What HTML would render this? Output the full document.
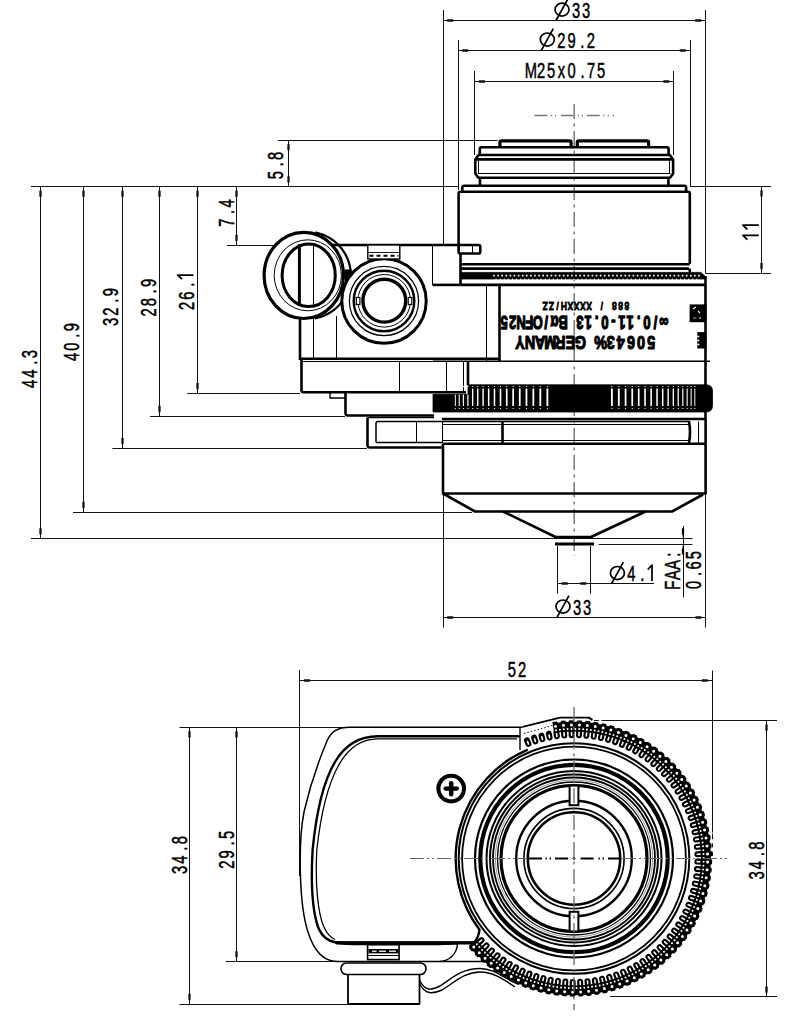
<!DOCTYPE html>
<html><head><meta charset="utf-8"><style>
html,body{margin:0;padding:0;background:#fff;}
svg{display:block;}
</style></head><body>
<svg width="800" height="1026" viewBox="0 0 800 1026">
<rect width="800" height="1026" fill="#fff"/>
<line x1="443.5" y1="10" x2="443.5" y2="245" stroke="#111" stroke-width="1.0" />
<line x1="705.5" y1="10" x2="705.5" y2="273.3" stroke="#111" stroke-width="1.0" />
<line x1="443" y1="20.5" x2="705.4" y2="20.5" stroke="#111" stroke-width="1.0" />
<path d="M443.00,20.50 L446.80,21.05 L447.60,21.65 L453.20,21.65 L453.20,19.35 L447.60,19.35 L446.80,19.95 Z" fill="#111"/>
<path d="M705.40,20.50 L701.60,19.95 L700.80,19.35 L695.20,19.35 L695.20,21.65 L700.80,21.65 L701.60,21.05 Z" fill="#111"/>
<g transform="translate(572.2,17.6) rotate(0)"><ellipse cx="-10.20" cy="-7.98" rx="7.0" ry="6.51" stroke="#000" stroke-width="1.7" fill="none"/><line x1="-16.15" y1="2.87" x2="-4.25" y2="-18.84" stroke="#000" stroke-width="1.7"/><text transform="scale(0.66,1)" x="5.76 21.21" y="0" text-anchor="middle" font-family='"Liberation Sans", sans-serif' font-size="22.3" font-weight="normal" fill="#000" stroke="#000" stroke-width="0.53" stroke-linejoin="round">33</text></g>
<line x1="458.5" y1="40" x2="458.5" y2="190" stroke="#111" stroke-width="1.0" />
<line x1="690.5" y1="40" x2="690.5" y2="186" stroke="#111" stroke-width="1.0" />
<line x1="458" y1="50.5" x2="690" y2="50.5" stroke="#111" stroke-width="1.0" />
<path d="M458.00,50.50 L461.80,51.05 L462.60,51.65 L468.20,51.65 L468.20,49.35 L462.60,49.35 L461.80,49.95 Z" fill="#111"/>
<path d="M690.00,50.50 L686.20,49.95 L685.40,49.35 L679.80,49.35 L679.80,51.65 L685.40,51.65 L686.20,51.05 Z" fill="#111"/>
<g transform="translate(567.2,47.5) rotate(0)"><ellipse cx="-19.89" cy="-7.98" rx="7.0" ry="6.51" stroke="#000" stroke-width="1.7" fill="none"/><line x1="-25.84" y1="2.87" x2="-13.94" y2="-18.84" stroke="#000" stroke-width="1.7"/><text transform="scale(0.66,1)" x="-8.92 6.53 22.91 35.89" y="0" text-anchor="middle" font-family='"Liberation Sans", sans-serif' font-size="22.3" font-weight="normal" fill="#000" stroke="#000" stroke-width="0.53" stroke-linejoin="round">29.2</text></g>
<line x1="474.5" y1="71" x2="474.5" y2="155" stroke="#111" stroke-width="1.0" />
<line x1="673.5" y1="71" x2="673.5" y2="155" stroke="#111" stroke-width="1.0" />
<line x1="474.8" y1="81.5" x2="673.5" y2="81.5" stroke="#111" stroke-width="1.0" />
<path d="M474.80,81.50 L478.60,82.05 L479.40,82.65 L485.00,82.65 L485.00,80.35 L479.40,80.35 L478.60,80.95 Z" fill="#111"/>
<path d="M673.50,81.50 L669.70,80.95 L668.90,80.35 L663.30,80.35 L663.30,82.65 L668.90,82.65 L669.70,82.05 Z" fill="#111"/>
<g transform="translate(566,78) rotate(0)"><text transform="scale(0.66,1)" x="-53.32 -37.86 -22.41 -6.95 8.50 24.88 37.86 53.32" y="0" text-anchor="middle" font-family='"Liberation Sans", sans-serif' font-size="22.3" font-weight="normal" fill="#000" stroke="#000" stroke-width="0.53" stroke-linejoin="round">M25x0.75</text></g>
<line x1="278" y1="140.5" x2="497.5" y2="140.5" stroke="#111" stroke-width="1.0" />
<line x1="288.5" y1="140" x2="288.5" y2="186.5" stroke="#111" stroke-width="1.0" />
<path d="M288.50,140.00 L287.95,143.80 L287.35,144.60 L287.35,150.20 L289.65,150.20 L289.65,144.60 L289.05,143.80 Z" fill="#111"/>
<path d="M288.50,186.50 L289.05,182.70 L289.65,181.90 L289.65,176.30 L287.35,176.30 L287.35,181.90 L287.95,182.70 Z" fill="#111"/>
<g transform="translate(282.5,165.5) rotate(-90)"><text transform="scale(0.66,1)" x="-14.68 1.70 14.68" y="0" text-anchor="middle" font-family='"Liberation Sans", sans-serif' font-size="22.3" font-weight="normal" fill="#000" stroke="#000" stroke-width="0.53" stroke-linejoin="round">5.8</text></g>
<line x1="31" y1="186.5" x2="458" y2="186.5" stroke="#111" stroke-width="1.0" />
<line x1="236.5" y1="186.5" x2="236.5" y2="245" stroke="#111" stroke-width="1.0" />
<path d="M236.50,186.50 L235.95,190.30 L235.35,191.10 L235.35,196.70 L237.65,196.70 L237.65,191.10 L237.05,190.30 Z" fill="#111"/>
<path d="M236.50,245.00 L237.05,241.20 L237.65,240.40 L237.65,234.80 L235.35,234.80 L235.35,240.40 L235.95,241.20 Z" fill="#111"/>
<line x1="227" y1="245.5" x2="300" y2="245.5" stroke="#111" stroke-width="1.0" />
<g transform="translate(233.8,213) rotate(-90)"><text transform="scale(0.66,1)" x="-14.68 1.70 14.68" y="0" text-anchor="middle" font-family='"Liberation Sans", sans-serif' font-size="22.3" font-weight="normal" fill="#000" stroke="#000" stroke-width="0.53" stroke-linejoin="round">7.4</text></g>
<line x1="690" y1="186.5" x2="771" y2="186.5" stroke="#111" stroke-width="1.0" />
<line x1="705.4" y1="273.5" x2="771" y2="273.5" stroke="#111" stroke-width="1.0" />
<line x1="761.5" y1="186.2" x2="761.5" y2="273.3" stroke="#111" stroke-width="1.0" />
<path d="M761.50,186.20 L760.95,190.00 L760.35,190.80 L760.35,196.40 L762.65,196.40 L762.65,190.80 L762.05,190.00 Z" fill="#111"/>
<path d="M761.50,273.30 L762.05,269.50 L762.65,268.70 L762.65,263.10 L760.35,263.10 L760.35,268.70 L760.95,269.50 Z" fill="#111"/>
<g transform="translate(758.8,231.5) rotate(-90)"><path d="M-3.90,0 V-15.97 L-8.10,-11.37" stroke="#000" stroke-width="1.75" fill="none" stroke-linejoin="round"/><path d="M6.30,0 V-15.97 L2.10,-11.37" stroke="#000" stroke-width="1.75" fill="none" stroke-linejoin="round"/></g>
<line x1="40.5" y1="186.5" x2="40.5" y2="538.5" stroke="#111" stroke-width="1.0" />
<path d="M40.50,186.50 L39.95,190.30 L39.35,191.10 L39.35,196.70 L41.65,196.70 L41.65,191.10 L41.05,190.30 Z" fill="#111"/>
<path d="M40.50,538.50 L41.05,534.70 L41.65,533.90 L41.65,528.30 L39.35,528.30 L39.35,533.90 L39.95,534.70 Z" fill="#111"/>
<line x1="31" y1="538.5" x2="300" y2="538.5" stroke="#111" stroke-width="1.0" />
<g transform="translate(36.800000000000004,369) rotate(-90)"><text transform="scale(0.66,1)" x="-22.41 -6.95 9.43 22.41" y="0" text-anchor="middle" font-family='"Liberation Sans", sans-serif' font-size="22.3" font-weight="normal" fill="#000" stroke="#000" stroke-width="0.53" stroke-linejoin="round">44.3</text></g>
<line x1="83.5" y1="186.5" x2="83.5" y2="512" stroke="#111" stroke-width="1.0" />
<path d="M83.50,186.50 L82.95,190.30 L82.35,191.10 L82.35,196.70 L84.65,196.70 L84.65,191.10 L84.05,190.30 Z" fill="#111"/>
<path d="M83.50,512.00 L84.05,508.20 L84.65,507.40 L84.65,501.80 L82.35,501.80 L82.35,507.40 L82.95,508.20 Z" fill="#111"/>
<line x1="73" y1="512.5" x2="300" y2="512.5" stroke="#111" stroke-width="1.0" />
<g transform="translate(79.2,342) rotate(-90)"><text transform="scale(0.66,1)" x="-22.41 -6.95 9.43 22.41" y="0" text-anchor="middle" font-family='"Liberation Sans", sans-serif' font-size="22.3" font-weight="normal" fill="#000" stroke="#000" stroke-width="0.53" stroke-linejoin="round">40.9</text></g>
<line x1="122.5" y1="186.5" x2="122.5" y2="448.2" stroke="#111" stroke-width="1.0" />
<path d="M122.50,186.50 L121.95,190.30 L121.35,191.10 L121.35,196.70 L123.65,196.70 L123.65,191.10 L123.05,190.30 Z" fill="#111"/>
<path d="M122.50,448.20 L123.05,444.40 L123.65,443.60 L123.65,438.00 L121.35,438.00 L121.35,443.60 L121.95,444.40 Z" fill="#111"/>
<line x1="112.4" y1="448.5" x2="300" y2="448.5" stroke="#111" stroke-width="1.0" />
<g transform="translate(118.2,307) rotate(-90)"><text transform="scale(0.66,1)" x="-22.41 -6.95 9.43 22.41" y="0" text-anchor="middle" font-family='"Liberation Sans", sans-serif' font-size="22.3" font-weight="normal" fill="#000" stroke="#000" stroke-width="0.53" stroke-linejoin="round">32.9</text></g>
<line x1="159.5" y1="186.5" x2="159.5" y2="416" stroke="#111" stroke-width="1.0" />
<path d="M159.50,186.50 L158.95,190.30 L158.35,191.10 L158.35,196.70 L160.65,196.70 L160.65,191.10 L160.05,190.30 Z" fill="#111"/>
<path d="M159.50,416.00 L160.05,412.20 L160.65,411.40 L160.65,405.80 L158.35,405.80 L158.35,411.40 L158.95,412.20 Z" fill="#111"/>
<line x1="150.2" y1="416.5" x2="300" y2="416.5" stroke="#111" stroke-width="1.0" />
<g transform="translate(155.79999999999998,297.6) rotate(-90)"><text transform="scale(0.66,1)" x="-22.41 -6.95 9.43 22.41" y="0" text-anchor="middle" font-family='"Liberation Sans", sans-serif' font-size="22.3" font-weight="normal" fill="#000" stroke="#000" stroke-width="0.53" stroke-linejoin="round">28.9</text></g>
<line x1="197.5" y1="186.5" x2="197.5" y2="393.2" stroke="#111" stroke-width="1.0" />
<path d="M197.50,186.50 L196.95,190.30 L196.35,191.10 L196.35,196.70 L198.65,196.70 L198.65,191.10 L198.05,190.30 Z" fill="#111"/>
<path d="M197.50,393.20 L198.05,389.40 L198.65,388.60 L198.65,383.00 L196.35,383.00 L196.35,388.60 L196.95,389.40 Z" fill="#111"/>
<line x1="187.4" y1="393.5" x2="300" y2="393.5" stroke="#111" stroke-width="1.0" />
<g transform="translate(193.5,291) rotate(-90)"><path d="M15.99,0 V-15.97 L11.79,-11.37" stroke="#000" stroke-width="1.75" fill="none" stroke-linejoin="round"/><text transform="scale(0.66,1)" x="-22.41 -6.95 9.43" y="0" text-anchor="middle" font-family='"Liberation Sans", sans-serif' font-size="22.3" font-weight="normal" fill="#000" stroke="#000" stroke-width="0.53" stroke-linejoin="round">26.</text></g>
<line x1="300" y1="512.5" x2="472" y2="512.5" stroke="#111" stroke-width="1.0" />
<line x1="300" y1="538.5" x2="555" y2="538.5" stroke="#111" stroke-width="1.0" />
<line x1="300" y1="448.5" x2="367" y2="448.5" stroke="#111" stroke-width="1.0" />
<line x1="300" y1="416.5" x2="345" y2="416.5" stroke="#111" stroke-width="1.0" />
<line x1="574.2" y1="104" x2="574.2" y2="556" stroke="#666" stroke-width="1.3" stroke-dasharray="15,4.5,3,4.5"/>
<line x1="534.5" y1="115.5" x2="547.4" y2="115.5" stroke="#777" stroke-width="1.5" />
<line x1="551" y1="115.5" x2="552.2" y2="115.5" stroke="#777" stroke-width="1.5" />
<line x1="555" y1="115.5" x2="556.2" y2="115.5" stroke="#777" stroke-width="1.5" />
<line x1="561" y1="115.5" x2="573.3" y2="115.5" stroke="#777" stroke-width="1.5" />
<line x1="577.8" y1="115.5" x2="579" y2="115.5" stroke="#777" stroke-width="1.5" />
<line x1="581.8" y1="115.5" x2="583" y2="115.5" stroke="#777" stroke-width="1.5" />
<line x1="586.8" y1="115.5" x2="599.7" y2="115.5" stroke="#777" stroke-width="1.5" />
<line x1="603.2" y1="115.5" x2="604.4" y2="115.5" stroke="#777" stroke-width="1.5" />
<line x1="607.7" y1="115.5" x2="608.9" y2="115.5" stroke="#777" stroke-width="1.5" />
<line x1="612.7" y1="115.5" x2="613.9" y2="115.5" stroke="#777" stroke-width="1.5" />
<line x1="443.5" y1="494" x2="443.5" y2="627.5" stroke="#111" stroke-width="1.0" />
<line x1="705.5" y1="494" x2="705.5" y2="627.5" stroke="#111" stroke-width="1.0" />
<line x1="443" y1="617.5" x2="705.6" y2="617.5" stroke="#111" stroke-width="1.0" />
<path d="M443.00,617.50 L446.80,618.05 L447.60,618.65 L453.20,618.65 L453.20,616.35 L447.60,616.35 L446.80,616.95 Z" fill="#111"/>
<path d="M705.60,617.50 L701.80,616.95 L701.00,616.35 L695.40,616.35 L695.40,618.65 L701.00,618.65 L701.80,618.05 Z" fill="#111"/>
<g transform="translate(573.2,614.5) rotate(0)"><ellipse cx="-10.20" cy="-7.98" rx="7.0" ry="6.51" stroke="#000" stroke-width="1.7" fill="none"/><line x1="-16.15" y1="2.87" x2="-4.25" y2="-18.84" stroke="#000" stroke-width="1.7"/><text transform="scale(0.66,1)" x="5.76 21.21" y="0" text-anchor="middle" font-family='"Liberation Sans", sans-serif' font-size="22.3" font-weight="normal" fill="#000" stroke="#000" stroke-width="0.53" stroke-linejoin="round">33</text></g>
<line x1="557.5" y1="546" x2="557.5" y2="593.7" stroke="#111" stroke-width="1.0" />
<line x1="590.5" y1="546" x2="590.5" y2="593.7" stroke="#111" stroke-width="1.0" />
<line x1="557.5" y1="583.5" x2="590.5" y2="583.5" stroke="#111" stroke-width="1.0" />
<path d="M557.50,583.50 L561.30,584.05 L562.10,584.65 L567.70,584.65 L567.70,582.35 L562.10,582.35 L561.30,582.95 Z" fill="#111"/>
<path d="M590.50,583.50 L586.70,582.95 L585.90,582.35 L580.30,582.35 L580.30,584.65 L585.90,584.65 L586.70,584.05 Z" fill="#111"/>
<line x1="590.5" y1="583.5" x2="654" y2="583.5" stroke="#111" stroke-width="1.0" />
<g transform="translate(632.2,581) rotate(0)"><ellipse cx="-14.79" cy="-7.98" rx="7.0" ry="6.51" stroke="#000" stroke-width="1.7" fill="none"/><line x1="-20.74" y1="2.87" x2="-8.84" y2="-18.84" stroke="#000" stroke-width="1.7"/><path d="M19.79,0 V-15.97 L15.59,-11.37" stroke="#000" stroke-width="1.75" fill="none" stroke-linejoin="round"/><text transform="scale(0.66,1)" x="-1.20 15.18" y="0" text-anchor="middle" font-family='"Liberation Sans", sans-serif' font-size="22.3" font-weight="normal" fill="#000" stroke="#000" stroke-width="0.53" stroke-linejoin="round">4.</text></g>
<line x1="598.7" y1="544.5" x2="692.5" y2="544.5" stroke="#111" stroke-width="1.0" />
<line x1="555" y1="538.5" x2="692.5" y2="538.5" stroke="#111" stroke-width="1.0" />
<line x1="683.5" y1="526" x2="683.5" y2="597.5" stroke="#111" stroke-width="1.0" />
<path d="M683.00,538.50 L683.55,534.70 L684.15,533.90 L684.15,528.30 L681.85,528.30 L681.85,533.90 L682.45,534.70 Z" fill="#000"/>
<path d="M683.00,544.20 L682.45,548.00 L681.85,548.80 L681.85,554.40 L684.15,554.40 L684.15,548.80 L683.55,548.00 Z" fill="#000"/>
<g transform="translate(679.5,570) rotate(-90)"><text transform="scale(0.66,1)" x="-23.18 -7.73 7.73 23.18" y="0" text-anchor="middle" font-family='"Liberation Sans", sans-serif' font-size="22.3" font-weight="normal" fill="#000" stroke="#000" stroke-width="0.53" stroke-linejoin="round">FAA:</text></g>
<g transform="translate(700.5,570) rotate(-90)"><text transform="scale(0.66,1)" x="-22.41 -6.03 6.95 22.41" y="0" text-anchor="middle" font-family='"Liberation Sans", sans-serif' font-size="22.3" font-weight="normal" fill="#000" stroke="#000" stroke-width="0.53" stroke-linejoin="round">0.65</text></g>
<path d="M499.9,146 V142.5 Q499.9,140.9 501.5,140.9 H569.5 Q571.1,140.9 571.1,142.5 V146" stroke="#000" stroke-width="3.2" fill="none" stroke-linejoin="round" />
<path d="M577.3,146 V142.5 Q577.3,140.9 579,140.9 H647 Q648.6,140.9 648.6,142.5 V146" stroke="#000" stroke-width="3.2" fill="none" stroke-linejoin="round" />
<path d="M479.8,154 V149 Q479.8,147.3 481.5,147.3 H666.9 Q668.6,147.3 668.6,149 V154" stroke="#000" stroke-width="2.6" fill="none" stroke-linejoin="round" />
<line x1="478" y1="155" x2="670.4" y2="155" stroke="#000" stroke-width="2.6" />
<path d="M478.5,155 L475.3,159.5 V173.5 L478.5,178" stroke="#000" stroke-width="2.6" fill="none" stroke-linejoin="round" />
<path d="M669.9,155 L673.1,159.5 V173.5 L669.9,178" stroke="#000" stroke-width="2.6" fill="none" stroke-linejoin="round" />
<line x1="475.5" y1="159.4" x2="672.9" y2="159.4" stroke="#000" stroke-width="2.6" />
<line x1="478.5" y1="160" x2="478.5" y2="173" stroke="#000" stroke-width="1.0" />
<line x1="669.5" y1="160" x2="669.5" y2="173" stroke="#000" stroke-width="1.0" />
<line x1="478" y1="173.5" x2="670.4" y2="173.5" stroke="#000" stroke-width="1.0" />
<line x1="478" y1="177.8" x2="670.4" y2="177.8" stroke="#000" stroke-width="2.6" />
<line x1="480" y1="178" x2="480" y2="185.5" stroke="#000" stroke-width="2.6" />
<line x1="668.4" y1="178" x2="668.4" y2="185.5" stroke="#000" stroke-width="2.6" />
<path d="M462.3,191.5 V187.5 Q462.3,185.8 464,185.8 H684.4 Q686.1,185.8 686.1,187.5 V191.5" stroke="#000" stroke-width="2.6" fill="none" stroke-linejoin="round" />
<path d="M458.6,245 V193.5 Q458.6,191.8 460.3,191.8 H688.1 Q689.8,191.8 689.8,193.5 V264" stroke="#000" stroke-width="2.6" fill="none" stroke-linejoin="round" />
<line x1="460.5" y1="253" x2="460.5" y2="284.5" stroke="#000" stroke-width="2.6" />
<path d="M458.6,245 H478.5 Q480.3,245 480.3,246.8 V251.7 Q480.3,253.5 478.5,253.5 H460.5 Q458.6,253.5 458.6,251.7 Z" stroke="#000" stroke-width="2.6" fill="none" stroke-linejoin="round" />
<line x1="472.5" y1="245.5" x2="472.5" y2="253" stroke="#000" stroke-width="1.0" />
<line x1="460.5" y1="264.3" x2="689.8" y2="264.3" stroke="#000" stroke-width="2.6" />
<line x1="460.5" y1="268.6" x2="689" y2="268.6" stroke="#000" stroke-width="2.6" />
<line x1="689.8" y1="268.6" x2="689.8" y2="272.5" stroke="#000" stroke-width="2.6" />
<path d="M460.5,272.4 H700.8 L705.4,276.5 V279 H460.5 Z" stroke="#000" stroke-width="0.8" fill="#000" stroke-linejoin="round" />
<path d="M494.00,275.6h0.01M498.10,275.6h0.01M502.20,275.6h0.01M506.30,275.6h0.01M510.40,275.6h0.01M514.50,275.6h0.01M518.60,275.6h0.01M522.70,275.6h0.01M526.80,275.6h0.01M530.90,275.6h0.01M535.00,275.6h0.01M539.10,275.6h0.01M543.20,275.6h0.01M547.30,275.6h0.01M551.40,275.6h0.01M555.50,275.6h0.01M559.60,275.6h0.01M563.70,275.6h0.01M567.80,275.6h0.01M571.90,275.6h0.01M576.00,275.6h0.01M580.10,275.6h0.01M584.20,275.6h0.01M588.30,275.6h0.01M592.40,275.6h0.01M596.50,275.6h0.01M600.60,275.6h0.01M604.70,275.6h0.01M608.80,275.6h0.01M612.90,275.6h0.01M617.00,275.6h0.01M621.10,275.6h0.01M625.20,275.6h0.01M629.30,275.6h0.01M633.40,275.6h0.01M637.50,275.6h0.01M641.60,275.6h0.01M645.70,275.6h0.01M649.80,275.6h0.01M653.90,275.6h0.01M658.00,275.6h0.01M662.10,275.6h0.01M666.20,275.6h0.01M670.30,275.6h0.01M674.40,275.6h0.01M678.50,275.6h0.01M682.60,275.6h0.01M686.70,275.6h0.01M690.80,275.6h0.01M694.90,275.6h0.01M699.00,275.6h0.01" stroke="#fff" stroke-width="1.6" stroke-linecap="square"/>
<path d="M496.00,279.2h0.01M500.10,279.2h0.01M504.20,279.2h0.01M508.30,279.2h0.01M512.40,279.2h0.01M516.50,279.2h0.01M520.60,279.2h0.01M524.70,279.2h0.01M528.80,279.2h0.01M532.90,279.2h0.01M537.00,279.2h0.01M541.10,279.2h0.01M545.20,279.2h0.01M549.30,279.2h0.01M553.40,279.2h0.01M557.50,279.2h0.01M561.60,279.2h0.01M565.70,279.2h0.01M569.80,279.2h0.01M573.90,279.2h0.01M578.00,279.2h0.01M582.10,279.2h0.01M586.20,279.2h0.01M590.30,279.2h0.01M594.40,279.2h0.01M598.50,279.2h0.01M602.60,279.2h0.01M606.70,279.2h0.01M610.80,279.2h0.01M614.90,279.2h0.01M619.00,279.2h0.01M623.10,279.2h0.01M627.20,279.2h0.01M631.30,279.2h0.01M635.40,279.2h0.01M639.50,279.2h0.01M643.60,279.2h0.01M647.70,279.2h0.01M651.80,279.2h0.01M655.90,279.2h0.01M660.00,279.2h0.01M664.10,279.2h0.01M668.20,279.2h0.01M672.30,279.2h0.01M676.40,279.2h0.01M680.50,279.2h0.01M684.60,279.2h0.01M688.70,279.2h0.01M692.80,279.2h0.01M696.90,279.2h0.01" stroke="#fff" stroke-width="1.4" stroke-linecap="round"/>
<path d="M689.6,304.4 H706.4 V322.2 H689.6 Z" fill="#000"/>
<path d="M693,309 l3,-2 M693.5,318 h2 M699,318 h2 M698,311 l2,2" stroke="#fff" stroke-width="1.1"/>
<path d="M697.3,332.1 H706.4 V348.5 H697.3 Z" fill="#000"/>
<path d="M697.3,336.5 h2 M697.3,340.5 h2 M697.3,344.5 h2" stroke="#fff" stroke-width="1.3"/>
<line x1="460.5" y1="284.9" x2="705.6" y2="284.9" stroke="#000" stroke-width="2.6" />
<line x1="705.5" y1="276" x2="705.5" y2="385" stroke="#000" stroke-width="2.6" />
<line x1="300" y1="245" x2="458.6" y2="245" stroke="#000" stroke-width="2.6" />
<line x1="432.5" y1="245" x2="432.5" y2="284.9" stroke="#000" stroke-width="1.0" />
<line x1="432.6" y1="284.9" x2="460.5" y2="284.9" stroke="#000" stroke-width="2.6" />
<line x1="499.5" y1="284.9" x2="499.5" y2="361" stroke="#000" stroke-width="2.6" />
<line x1="486.5" y1="284.9" x2="486.5" y2="361" stroke="#000" stroke-width="1.0" />
<line x1="300" y1="358.8" x2="499.5" y2="358.8" stroke="#000" stroke-width="2.6" />
<line x1="300" y1="245" x2="300" y2="360" stroke="#000" stroke-width="2.6" />
<line x1="313.5" y1="245" x2="313.5" y2="358" stroke="#000" stroke-width="1.0" />
<line x1="336.5" y1="316" x2="336.5" y2="358" stroke="#000" stroke-width="1.0" />
<line x1="301" y1="361.5" x2="432.6" y2="361.5" stroke="#000" stroke-width="1.0" />
<line x1="432.6" y1="361.3" x2="710" y2="361.3" stroke="#000" stroke-width="1.6" />
<path d="M301.5,360 V390.3 Q301.5,392.3 303.5,392.3 H466" stroke="#000" stroke-width="2.6" fill="none" stroke-linejoin="round" />
<line x1="399.5" y1="361" x2="399.5" y2="392" stroke="#000" stroke-width="1.0" />
<line x1="446.5" y1="361" x2="446.5" y2="391.5" stroke="#000" stroke-width="1.0" />
<line x1="463.5" y1="361" x2="463.5" y2="391.5" stroke="#000" stroke-width="1.0" />
<line x1="468" y1="361" x2="468" y2="385" stroke="#000" stroke-width="2.6" />
<path d="M330,392.5 V398 H346" stroke="#000" stroke-width="1.4" fill="none" stroke-linejoin="round" />
<path d="M345.5,392 V413 Q345.5,415.5 348,415.5 H434" stroke="#000" stroke-width="2.6" fill="none" stroke-linejoin="round" />
<path d="M468,384.8 H706 Q712.5,384.8 712.5,391 V405.5 Q712.5,412 706,412 H433 V394.2 H468 Z" stroke="#000" stroke-width="0.8" fill="#000" stroke-linejoin="round" />
<rect x="454.83" y="386" width="1" height="1" fill="#fff"/><rect x="454.83" y="408" width="1" height="1" fill="#fff"/>
<rect x="458.71" y="386" width="1" height="1" fill="#fff"/><rect x="458.71" y="408" width="1" height="1" fill="#fff"/>
<rect x="462.90" y="386" width="1" height="1" fill="#fff"/><rect x="462.90" y="408" width="1" height="1" fill="#fff"/>
<rect x="467.40" y="386" width="1" height="1" fill="#fff"/><rect x="467.40" y="408" width="1" height="1" fill="#fff"/>
<rect x="472.19" y="386" width="1" height="1" fill="#fff"/><rect x="472.19" y="408" width="1" height="1" fill="#fff"/>
<rect x="477.26" y="386" width="1" height="1" fill="#fff"/><rect x="477.26" y="408" width="1" height="1" fill="#fff"/>
<rect x="482.59" y="386" width="1" height="1" fill="#fff"/><rect x="482.59" y="408" width="1" height="1" fill="#fff"/>
<rect x="488.16" y="386" width="1" height="1" fill="#fff"/><rect x="488.16" y="408" width="1" height="1" fill="#fff"/>
<rect x="493.98" y="386" width="1" height="1" fill="#fff"/><rect x="493.98" y="408" width="1" height="1" fill="#fff"/>
<rect x="500.01" y="386" width="1" height="1" fill="#fff"/><rect x="500.01" y="408" width="1" height="1" fill="#fff"/>
<rect x="506.24" y="386" width="1" height="1" fill="#fff"/><rect x="506.24" y="408" width="1" height="1" fill="#fff"/>
<rect x="512.66" y="386" width="1" height="1" fill="#fff"/><rect x="512.66" y="408" width="1" height="1" fill="#fff"/>
<rect x="519.24" y="386" width="1" height="1" fill="#fff"/><rect x="519.24" y="408" width="1" height="1" fill="#fff"/>
<rect x="525.97" y="386" width="1" height="1" fill="#fff"/><rect x="525.97" y="408" width="1" height="1" fill="#fff"/>
<rect x="532.83" y="386" width="1" height="1" fill="#fff"/><rect x="532.83" y="408" width="1" height="1" fill="#fff"/>
<rect x="539.81" y="386" width="1" height="1" fill="#fff"/><rect x="539.81" y="408" width="1" height="1" fill="#fff"/>
<rect x="546.87" y="386" width="1" height="1" fill="#fff"/><rect x="546.87" y="408" width="1" height="1" fill="#fff"/>
<rect x="611.39" y="386" width="1" height="1" fill="#fff"/><rect x="611.39" y="408" width="1" height="1" fill="#fff"/>
<rect x="618.30" y="386" width="1" height="1" fill="#fff"/><rect x="618.30" y="408" width="1" height="1" fill="#fff"/>
<rect x="625.08" y="386" width="1" height="1" fill="#fff"/><rect x="625.08" y="408" width="1" height="1" fill="#fff"/>
<rect x="631.73" y="386" width="1" height="1" fill="#fff"/><rect x="631.73" y="408" width="1" height="1" fill="#fff"/>
<rect x="638.21" y="386" width="1" height="1" fill="#fff"/><rect x="638.21" y="408" width="1" height="1" fill="#fff"/>
<rect x="644.52" y="386" width="1" height="1" fill="#fff"/><rect x="644.52" y="408" width="1" height="1" fill="#fff"/>
<rect x="650.64" y="386" width="1" height="1" fill="#fff"/><rect x="650.64" y="408" width="1" height="1" fill="#fff"/>
<rect x="656.54" y="386" width="1" height="1" fill="#fff"/><rect x="656.54" y="408" width="1" height="1" fill="#fff"/>
<rect x="662.21" y="386" width="1" height="1" fill="#fff"/><rect x="662.21" y="408" width="1" height="1" fill="#fff"/>
<rect x="667.64" y="386" width="1" height="1" fill="#fff"/><rect x="667.64" y="408" width="1" height="1" fill="#fff"/>
<rect x="672.82" y="386" width="1" height="1" fill="#fff"/><rect x="672.82" y="408" width="1" height="1" fill="#fff"/>
<rect x="677.72" y="386" width="1" height="1" fill="#fff"/><rect x="677.72" y="408" width="1" height="1" fill="#fff"/>
<rect x="682.33" y="386" width="1" height="1" fill="#fff"/><rect x="682.33" y="408" width="1" height="1" fill="#fff"/>
<rect x="686.65" y="386" width="1" height="1" fill="#fff"/><rect x="686.65" y="408" width="1" height="1" fill="#fff"/>
<rect x="690.66" y="386" width="1" height="1" fill="#fff"/><rect x="690.66" y="408" width="1" height="1" fill="#fff"/>
<rect x="694.34" y="386" width="1" height="1" fill="#fff"/><rect x="694.34" y="408" width="1" height="1" fill="#fff"/>
<rect x="454.84" y="394.5" width="0.98" height="11.5" fill="#fff"/>
<rect x="458.68" y="394.5" width="1.06" height="11.5" fill="#fff"/>
<rect x="462.83" y="394.5" width="1.14" height="11.5" fill="#fff"/>
<rect x="467.29" y="394.5" width="1.22" height="11.5" fill="#fff"/>
<rect x="472.04" y="388.5" width="1.29" height="17.5" fill="#fff"/>
<rect x="477.07" y="388.5" width="1.36" height="17.5" fill="#fff"/>
<rect x="482.37" y="388.5" width="1.43" height="17.5" fill="#fff"/>
<rect x="487.92" y="388.5" width="1.50" height="17.5" fill="#fff"/>
<rect x="493.70" y="388.5" width="1.55" height="17.5" fill="#fff"/>
<rect x="499.70" y="388.5" width="1.61" height="17.5" fill="#fff"/>
<rect x="505.91" y="388.5" width="1.66" height="17.5" fill="#fff"/>
<rect x="512.30" y="388.5" width="1.71" height="17.5" fill="#fff"/>
<rect x="518.87" y="388.5" width="1.75" height="17.5" fill="#fff"/>
<rect x="525.58" y="388.5" width="1.78" height="17.5" fill="#fff"/>
<rect x="532.43" y="388.5" width="1.82" height="17.5" fill="#fff"/>
<rect x="539.39" y="388.5" width="1.84" height="17.5" fill="#fff"/>
<rect x="546.44" y="388.5" width="1.86" height="17.5" fill="#fff"/>
<rect x="610.97" y="388.5" width="1.83" height="17.5" fill="#fff"/>
<rect x="617.90" y="388.5" width="1.80" height="17.5" fill="#fff"/>
<rect x="624.70" y="388.5" width="1.76" height="17.5" fill="#fff"/>
<rect x="631.37" y="388.5" width="1.72" height="17.5" fill="#fff"/>
<rect x="637.88" y="388.5" width="1.68" height="17.5" fill="#fff"/>
<rect x="644.21" y="388.5" width="1.63" height="17.5" fill="#fff"/>
<rect x="650.35" y="388.5" width="1.58" height="17.5" fill="#fff"/>
<rect x="656.28" y="388.5" width="1.52" height="17.5" fill="#fff"/>
<rect x="661.98" y="388.5" width="1.46" height="17.5" fill="#fff"/>
<rect x="667.45" y="388.5" width="1.39" height="17.5" fill="#fff"/>
<rect x="672.66" y="388.5" width="1.32" height="17.5" fill="#fff"/>
<rect x="677.59" y="388.5" width="1.25" height="17.5" fill="#fff"/>
<rect x="682.25" y="388.5" width="1.17" height="17.5" fill="#fff"/>
<rect x="686.60" y="388.5" width="1.09" height="17.5" fill="#fff"/>
<rect x="690.65" y="388.5" width="1.01" height="17.5" fill="#fff"/>
<rect x="694.38" y="388.5" width="0.92" height="17.5" fill="#fff"/>
<line x1="442" y1="419" x2="705.5" y2="419" stroke="#000" stroke-width="2.6" />
<line x1="705.5" y1="412" x2="705.5" y2="419" stroke="#000" stroke-width="2.6" />
<path d="M367.5,417.5 V445 Q367.5,447.5 370,447.5 H443" stroke="#000" stroke-width="2.6" fill="none" stroke-linejoin="round" />
<line x1="367.5" y1="417.4" x2="434" y2="417.4" stroke="#000" stroke-width="1.5" />
<path d="M376,442.5 V423.5 Q376,421.5 378,421.5 H690" stroke="#000" stroke-width="1.5" fill="none" stroke-linejoin="round" />
<line x1="376" y1="442.5" x2="443" y2="442.5" stroke="#000" stroke-width="1.5" />
<line x1="442.5" y1="421.5" x2="442.5" y2="443" stroke="#000" stroke-width="1.0" />
<line x1="416.5" y1="421.5" x2="416.5" y2="442.5" stroke="#000" stroke-width="1.0" />
<line x1="502.5" y1="421.5" x2="502.5" y2="443" stroke="#000" stroke-width="2.6" />
<line x1="443" y1="424.5" x2="690" y2="424.5" stroke="#000" stroke-width="1.0" />
<line x1="443" y1="440.5" x2="690" y2="440.5" stroke="#000" stroke-width="1.0" />
<path d="M689,421.5 Q691,432 689,443" stroke="#000" stroke-width="2.6" fill="none" stroke-linejoin="round" />
<line x1="698.5" y1="421.5" x2="698.5" y2="443" stroke="#000" stroke-width="1.0" />
<line x1="443" y1="443.7" x2="705.6" y2="443.7" stroke="#000" stroke-width="2.6" />
<line x1="705.6" y1="419" x2="705.6" y2="443.7" stroke="#000" stroke-width="2.6" />
<path d="M443,443.7 V493.5 H705.6 V443.7" stroke="#000" stroke-width="2.6" fill="none" stroke-linejoin="round" />
<path d="M443,493.5 L475,511.5 H672 L703,494.5" stroke="#000" stroke-width="2.6" fill="none" stroke-linejoin="round" />
<path d="M503,511.5 L555.5,537 H591 L645.5,511.5" stroke="#000" stroke-width="2.6" fill="none" stroke-linejoin="round" />
<line x1="555" y1="544" x2="594" y2="544" stroke="#000" stroke-width="3.2" />
<g transform="translate(586,302) rotate(180)"><text transform="scale(0.75,1)" x="-54.60 -46.20 -37.80 -21.00 -4.20 4.20 12.60 21.00 29.40 37.80 46.20 54.60" y="0" text-anchor="middle" font-family='"Liberation Sans", sans-serif' font-size="11.5" font-weight="bold" fill="#000" stroke="#000" stroke-width="0.80" stroke-linejoin="round">888/XXXXH/ZZ</text></g>
<g transform="translate(584,316) rotate(180)"><text transform="scale(0.7,1)" x="-114.00 -102.00 -90.00 -78.00 -66.00 -54.00 -42.00 -30.00 -18.00 -6.00 6.00 30.00 42.00 54.00 66.00 78.00 90.00 102.00 114.00" y="0" text-anchor="middle" font-family='"Liberation Sans", sans-serif' font-size="18.5" font-weight="bold" fill="#000" stroke="#000" stroke-width="1.29" stroke-linejoin="round">∞/0.11-0.13Bα/OFN25</text></g>
<g transform="translate(585.5,336) rotate(180)"><text transform="scale(0.78,1)" x="-84.17 -71.22 -58.27 -45.32 -32.37 -19.42 6.47 19.42 32.37 45.32 58.27 71.22 84.17" y="0" text-anchor="middle" font-family='"Liberation Sans", sans-serif' font-size="18.5" font-weight="bold" fill="#000" stroke="#000" stroke-width="1.15" stroke-linejoin="round">50643%GERMANY</text></g>
<path d="M314.77,232.46 L316.76,232.86 L318.73,233.35 L320.67,233.93 L322.59,234.61 L324.47,235.37 L326.31,236.21 L328.12,237.14 L329.87,238.16 L331.58,239.25 L333.24,240.43 L334.84,241.68 L336.37,243.00 L337.85,244.39 L339.26,245.85 L340.60,247.37 L341.87,248.96 L343.06,250.60 L344.17,252.30 L345.21,254.04 L346.16,255.83 L347.03,257.67 L347.81,259.54 L348.51,261.45 L349.11,263.38 L349.62,265.35 L350.05,267.33 L350.38,269.33 L350.61,271.35 L350.75,273.37 L350.80,275.40 L350.75,277.43 L350.61,279.45 L350.38,281.47 L350.05,283.47 L349.62,285.45 L349.11,287.42 L348.51,289.35 L347.81,291.26 L347.03,293.13 L346.16,294.97 L345.21,296.76 L344.17,298.50 L343.06,300.20 L341.87,301.84 L340.60,303.43 L339.26,304.95 L337.85,306.41 L336.37,307.80 L334.84,309.12 L333.24,310.37 L331.58,311.55 L329.87,312.64 L328.12,313.66 L326.31,314.59 L324.47,315.43 L322.59,316.19 L320.67,316.87 L318.73,317.45 L316.76,317.94 L314.77,318.34" stroke="#000" stroke-width="2.2" fill="none"/>
<ellipse cx="303.8" cy="275.4" rx="39.7" ry="43.1" stroke="#000" stroke-width="3.2" fill="#fff" />
<rect x="345" y="269.5" width="6.8" height="12" fill="#000"/>
<ellipse cx="307.8" cy="275.3" rx="33.6" ry="35.5" stroke="#000" stroke-width="1.0" fill="none" />
<ellipse cx="308.7" cy="275.3" rx="26.6" ry="31.3" stroke="#000" stroke-width="3.0" fill="none" />
<line x1="299.4" y1="244" x2="299.4" y2="306" stroke="#000" stroke-width="3.0" />
<line x1="313.5" y1="244" x2="313.5" y2="306" stroke="#000" stroke-width="1.0" />
<circle cx="384" cy="301" r="42.2" stroke="#000" stroke-width="3.0" fill="#fff" />
<circle cx="384" cy="301" r="34.6" stroke="#000" stroke-width="1.2" fill="none" />
<circle cx="384" cy="301" r="30.3" stroke="#000" stroke-width="2.4" fill="none" />
<circle cx="384.2" cy="300.8" r="26.3" stroke="#000" stroke-width="1.0" fill="none" />
<circle cx="384.3" cy="300.7" r="21.4" stroke="#000" stroke-width="3.4" fill="none" />
<rect x="356.3" y="297.5" width="3.6" height="7" rx="0" stroke="#000" stroke-width="1.2" fill="#fff" />
<rect x="408.2" y="297.5" width="3.6" height="7" rx="0" stroke="#000" stroke-width="1.2" fill="#fff" />
<rect x="367.8" y="245" width="32" height="14" rx="0" stroke="#000" stroke-width="1.4" fill="#fff" />
<line x1="369.5" y1="255.8" x2="398.5" y2="255.8" stroke="#000" stroke-width="2.0" stroke-dasharray="4,3"/>
<line x1="368" y1="252.5" x2="399.6" y2="252.5" stroke="#000" stroke-width="0.9" />
<line x1="299.5" y1="670" x2="299.5" y2="876" stroke="#111" stroke-width="1.0" />
<line x1="712.5" y1="670.5" x2="712.5" y2="858" stroke="#111" stroke-width="1.0" />
<line x1="299.8" y1="680.5" x2="712" y2="680.5" stroke="#111" stroke-width="1.0" />
<path d="M299.80,680.50 L303.60,681.05 L304.40,681.65 L310.00,681.65 L310.00,679.35 L304.40,679.35 L303.60,679.95 Z" fill="#111"/>
<path d="M712.00,680.50 L708.20,679.95 L707.40,679.35 L701.80,679.35 L701.80,681.65 L707.40,681.65 L708.20,681.05 Z" fill="#111"/>
<g transform="translate(517,677.4) rotate(0)"><text transform="scale(0.66,1)" x="-7.73 7.73" y="0" text-anchor="middle" font-family='"Liberation Sans", sans-serif' font-size="22.3" font-weight="normal" fill="#000" stroke="#000" stroke-width="0.53" stroke-linejoin="round">52</text></g>
<line x1="179.5" y1="727.5" x2="350" y2="727.5" stroke="#111" stroke-width="1.0" />
<line x1="189.5" y1="727.2" x2="189.5" y2="1004" stroke="#111" stroke-width="1.0" />
<path d="M189.50,727.20 L188.95,731.00 L188.35,731.80 L188.35,737.40 L190.65,737.40 L190.65,731.80 L190.05,731.00 Z" fill="#111"/>
<path d="M189.50,1004.00 L190.05,1000.20 L190.65,999.40 L190.65,993.80 L188.35,993.80 L188.35,999.40 L188.95,1000.20 Z" fill="#111"/>
<g transform="translate(186.6,855) rotate(-90)"><text transform="scale(0.66,1)" x="-22.41 -6.95 9.43 22.41" y="0" text-anchor="middle" font-family='"Liberation Sans", sans-serif' font-size="22.3" font-weight="normal" fill="#000" stroke="#000" stroke-width="0.53" stroke-linejoin="round">34.8</text></g>
<line x1="236.5" y1="727.2" x2="236.5" y2="961.4" stroke="#111" stroke-width="1.0" />
<path d="M236.50,727.20 L235.95,731.00 L235.35,731.80 L235.35,737.40 L237.65,737.40 L237.65,731.80 L237.05,731.00 Z" fill="#111"/>
<path d="M236.50,961.40 L237.05,957.60 L237.65,956.80 L237.65,951.20 L235.35,951.20 L235.35,956.80 L235.95,957.60 Z" fill="#111"/>
<g transform="translate(233.9,849.8) rotate(-90)"><text transform="scale(0.66,1)" x="-22.41 -6.95 9.43 22.41" y="0" text-anchor="middle" font-family='"Liberation Sans", sans-serif' font-size="22.3" font-weight="normal" fill="#000" stroke="#000" stroke-width="0.53" stroke-linejoin="round">29.5</text></g>
<line x1="179.5" y1="1004.5" x2="348" y2="1004.5" stroke="#111" stroke-width="1.0" />
<line x1="225.8" y1="961.5" x2="336" y2="961.5" stroke="#111" stroke-width="1.0" />
<line x1="592" y1="720.5" x2="777" y2="720.5" stroke="#111" stroke-width="1.0" />
<line x1="610" y1="996.5" x2="777" y2="996.5" stroke="#111" stroke-width="1.0" />
<line x1="766.5" y1="720.5" x2="766.5" y2="996.8" stroke="#111" stroke-width="1.0" />
<path d="M766.50,720.50 L765.95,724.30 L765.35,725.10 L765.35,730.70 L767.65,730.70 L767.65,725.10 L767.05,724.30 Z" fill="#111"/>
<path d="M766.50,996.80 L767.05,993.00 L767.65,992.20 L767.65,986.60 L765.35,986.60 L765.35,992.20 L765.95,993.00 Z" fill="#111"/>
<g transform="translate(763.9,860.5) rotate(-90)"><text transform="scale(0.66,1)" x="-22.41 -6.95 9.43 22.41" y="0" text-anchor="middle" font-family='"Liberation Sans", sans-serif' font-size="22.3" font-weight="normal" fill="#000" stroke="#000" stroke-width="0.53" stroke-linejoin="round">34.8</text></g>
<path d="M552.38,722.00 A138.2,138.2 0 1 1 467.67,946.78 L476.29,939.62 A127.0,127.0 0 1 0 554.13,733.06 Z" fill="#000"/>
<path d="M528.40,743.83L527.00,740.30M535.34,741.31L534.15,737.70M542.42,739.21L541.44,735.54M549.61,737.53L548.86,733.81M556.89,736.29L556.36,732.53M564.22,735.49L563.92,731.70M571.60,735.12L571.52,731.32M578.98,735.20L579.13,731.40M586.34,735.72L586.72,731.94M593.66,736.68L594.27,732.93M600.91,738.07L601.74,734.36M608.07,739.90L609.12,736.24M615.10,742.15L616.37,738.56M621.98,744.81L623.46,741.31M628.70,747.88L630.38,744.48M635.21,751.35L637.10,748.05M641.51,755.21L643.59,752.02M647.57,759.43L649.83,756.38M653.36,764.00L655.81,761.09M658.87,768.92L661.48,766.16M664.08,774.16L666.85,771.56M668.96,779.69L671.88,777.27M673.50,785.51L676.56,783.26M677.69,791.59L680.88,789.53M681.50,797.91L684.81,796.05M684.93,804.45L688.35,802.79M687.97,811.18L691.48,809.72M690.59,818.08L694.18,816.84M692.80,825.13L696.46,824.10M694.58,832.29L698.30,831.48M695.94,839.55L699.69,838.96M696.85,846.87L700.63,846.52M697.33,854.24L701.12,854.11M697.36,861.62L701.16,861.72M696.95,869.00L700.74,869.32M696.11,876.33L699.87,876.88M694.82,883.60L698.54,884.37M693.10,890.78L696.77,891.77M690.96,897.84L694.56,899.06M688.40,904.77L691.92,906.19M685.43,911.53L688.86,913.16M682.06,918.09L685.38,919.93M678.30,924.45L681.51,926.48M674.17,930.57L677.25,932.79M669.68,936.43L672.63,938.83M664.85,942.01L667.64,944.58M659.69,947.30L662.33,950.03M654.23,952.26L656.70,955.15M648.48,956.89L650.77,959.92M642.46,961.17L644.57,964.33M636.20,965.08L638.11,968.36M629.71,968.61L631.43,972.00M623.03,971.74L624.54,975.23M616.17,974.47L617.47,978.04M609.16,976.79L610.24,980.43M602.02,978.68L602.88,982.38M594.78,980.14L595.42,983.88M587.47,981.16L587.89,984.94M580.11,981.75L580.30,985.54M572.73,981.89L572.69,985.69M565.36,981.60L565.09,985.39M558.01,980.86L557.52,984.63M550.72,979.68L550.00,983.42M543.52,978.08L542.58,981.76M536.42,976.04L535.26,979.66M529.46,973.58L528.09,977.12M522.66,970.71L521.07,974.17M516.04,967.44L514.25,970.79M509.63,963.78L507.64,967.02M503.45,959.74L501.27,962.86M497.52,955.34L495.16,958.32M491.86,950.59L489.33,953.43M486.50,945.52L483.81,948.20M481.46,940.13L478.61,942.64" stroke="#000" stroke-width="6.0" stroke-linecap="round"/>
<path d="M528.48,744.02L527.44,741.42M535.40,741.50L534.53,738.84M542.47,739.40L541.75,736.70M549.65,737.73L549.09,734.99M556.91,736.49L556.52,733.72M564.24,735.69L564.02,732.90M571.60,735.32L571.55,732.52M578.97,735.40L579.08,732.60M586.32,735.92L586.60,733.13M593.63,736.87L594.08,734.11M600.87,738.27L601.48,735.53M608.01,740.09L608.79,737.40M615.03,742.33L615.97,739.69M621.91,745.00L623.00,742.42M628.61,748.06L629.85,745.55M635.11,751.53L636.50,749.10M641.40,755.37L642.93,753.03M647.45,759.59L649.12,757.34M653.23,764.16L655.03,762.01M658.73,769.06L660.66,767.03M663.93,774.29L665.97,772.38M668.80,779.82L670.96,778.03M673.34,785.63L675.60,783.97M677.52,791.70L679.87,790.18M681.33,798.01L683.77,796.64M684.75,804.54L687.27,803.31M687.78,811.26L690.37,810.18M690.40,818.15L693.05,817.23M692.61,825.18L695.30,824.42M694.39,832.33L697.13,831.74M695.74,839.58L698.51,839.15M696.65,846.89L699.44,846.63M697.13,854.25L699.92,854.15M697.16,861.62L699.96,861.69M696.75,868.98L699.54,869.22M695.91,876.30L698.68,876.71M694.62,883.56L697.37,884.13M692.91,890.73L695.61,891.46M690.77,897.78L693.42,898.67M688.21,904.69L690.81,905.74M685.25,911.44L687.77,912.64M681.88,918.00L684.33,919.35M678.13,924.34L680.50,925.84M674.01,930.45L676.28,932.09M669.52,936.30L671.69,938.07M664.70,941.88L666.76,943.77M659.55,947.15L661.50,949.17M654.10,952.11L655.92,954.24M648.36,956.73L650.05,958.96M642.35,961.00L643.90,963.33M636.10,964.91L637.51,967.32M629.62,968.43L630.89,970.93M622.95,971.56L624.06,974.13M616.10,974.28L617.06,976.91M609.10,976.59L609.90,979.28M601.98,978.48L602.61,981.21M594.75,979.94L595.22,982.70M587.45,980.96L587.76,983.75M580.10,981.55L580.24,984.35M572.73,981.69L572.71,984.49M565.37,981.40L565.17,984.19M558.04,980.66L557.67,983.44M550.76,979.49L550.23,982.24M543.57,977.88L542.87,980.59M536.48,975.85L535.63,978.52M529.53,973.39L528.52,976.01M522.74,970.53L521.57,973.08M516.13,967.26L514.82,969.74M509.73,963.61L508.27,966.00M503.56,959.58L501.96,961.87M497.64,955.18L495.91,957.38M492.00,950.44L490.13,952.53M486.65,945.38L484.66,947.35M481.61,940.00L479.51,941.85" stroke="#fff" stroke-width="1.6" stroke-linecap="round"/>
<path d="M556.03,730.15h0.01M559.87,729.67h0.01M563.73,729.31h0.01M567.60,729.06h0.01M571.48,728.92h0.01M575.35,728.91h0.01M579.23,729.01h0.01M583.10,729.22h0.01M586.96,729.55h0.01M590.82,730.00h0.01M594.65,730.56h0.01M598.47,731.23h0.01M602.27,732.02h0.01M606.04,732.92h0.01M609.78,733.94h0.01M613.49,735.06h0.01M617.16,736.30h0.01M620.80,737.65h0.01M624.40,739.10h0.01M627.94,740.66h0.01M631.45,742.33h0.01M634.89,744.10h0.01M638.29,745.97h0.01M641.63,747.94h0.01M644.90,750.02h0.01M648.12,752.19h0.01M651.26,754.45h0.01M654.34,756.81h0.01M657.35,759.26h0.01M660.28,761.79h0.01M663.13,764.42h0.01M665.91,767.13h0.01M668.60,769.92h0.01M671.21,772.79h0.01M673.73,775.73h0.01M676.16,778.75h0.01M678.50,781.85h0.01M680.75,785.01h0.01M682.90,788.23h0.01M684.95,791.52h0.01M686.90,794.87h0.01M688.76,798.28h0.01M690.51,801.74h0.01M692.15,805.25h0.01M693.69,808.80h0.01M695.13,812.41h0.01M696.45,816.05h0.01M697.67,819.73h0.01M698.77,823.45h0.01M699.76,827.20h0.01M700.64,830.97h0.01M701.41,834.77h0.01M702.06,838.60h0.01M702.60,842.44h0.01M703.02,846.29h0.01M703.33,850.15h0.01M703.52,854.03h0.01M703.60,857.90h0.01M703.56,861.78h0.01M703.40,865.66h0.01M703.13,869.52h0.01M702.74,873.38h0.01M702.24,877.23h0.01M701.62,881.05h0.01M700.89,884.86h0.01M700.05,888.64h0.01M699.09,892.40h0.01M698.02,896.13h0.01M696.84,899.82h0.01M695.55,903.48h0.01M694.15,907.09h0.01M692.64,910.67h0.01M691.02,914.19h0.01M689.31,917.67h0.01M687.48,921.09h0.01M685.56,924.46h0.01M683.54,927.76h0.01M681.42,931.01h0.01M679.20,934.19h0.01M676.89,937.30h0.01M674.49,940.35h0.01M671.99,943.32h0.01M669.41,946.21h0.01M666.75,949.02h0.01M664.00,951.76h0.01M661.17,954.41h0.01M658.26,956.97h0.01M655.27,959.45h0.01M652.22,961.83h0.01M649.09,964.13h0.01M645.90,966.33h0.01M642.64,968.43h0.01M639.32,970.43h0.01M635.94,972.34h0.01M632.51,974.14h0.01M629.03,975.84h0.01M625.49,977.43h0.01M621.91,978.92h0.01M618.29,980.30h0.01M614.62,981.57h0.01M610.92,982.73h0.01M607.19,983.78h0.01M603.43,984.71h0.01M599.64,985.54h0.01M595.83,986.25h0.01M592.00,986.84h0.01M588.15,987.33h0.01M584.29,987.69h0.01M580.42,987.94h0.01M576.55,988.07h0.01M572.67,988.09h0.01M568.79,988.00h0.01M564.92,987.78h0.01M561.06,987.45h0.01M557.21,987.01h0.01M553.37,986.45h0.01M549.55,985.77h0.01M545.76,984.98h0.01M541.98,984.08h0.01M538.24,983.07h0.01M534.53,981.94h0.01M530.86,980.71h0.01M527.22,979.36h0.01M523.63,977.91h0.01M520.08,976.35h0.01M516.58,974.68h0.01M513.13,972.91h0.01M509.73,971.04h0.01M506.39,969.07h0.01M503.12,967.00h0.01M499.90,964.83h0.01M496.75,962.56h0.01M493.68,960.21h0.01M490.67,957.76h0.01M487.74,955.22h0.01M484.88,952.60h0.01M482.11,949.89h0.01M479.41,947.10h0.01M476.81,944.23h0.01M474.29,941.28h0.01" stroke="#fff" stroke-width="2.0" stroke-linecap="round"/>
<path d="M555.47,726.19h0.01M563.42,725.32h0.01M571.40,724.93h0.01M579.39,725.01h0.01M587.36,725.57h0.01M595.29,726.61h0.01M603.14,728.12h0.01M610.88,730.09h0.01M618.50,732.53h0.01M625.95,735.41h0.01M633.22,738.74h0.01M640.27,742.50h0.01M647.09,746.67h0.01M653.65,751.24h0.01M659.92,756.19h0.01M665.89,761.52h0.01M671.52,767.18h0.01M676.81,773.18h0.01M681.73,779.48h0.01M686.26,786.06h0.01M690.39,792.91h0.01M694.10,799.98h0.01M697.39,807.27h0.01M700.23,814.74h0.01M702.62,822.37h0.01M704.55,830.12h0.01M706.01,837.98h0.01M707.01,845.91h0.01M707.52,853.89h0.01M707.56,861.88h0.01M707.12,869.86h0.01M706.20,877.80h0.01M704.81,885.67h0.01M702.95,893.45h0.01M700.63,901.10h0.01M697.85,908.59h0.01M694.64,915.91h0.01M690.99,923.02h0.01M686.92,929.90h0.01M682.45,936.53h0.01M677.59,942.87h0.01M672.36,948.92h0.01M666.77,954.64h0.01M660.86,960.01h0.01M654.63,965.02h0.01M648.12,969.66h0.01M641.34,973.89h0.01M634.32,977.71h0.01M627.08,981.10h0.01M619.65,984.06h0.01M612.06,986.56h0.01M604.34,988.61h0.01M596.50,990.19h0.01M588.59,991.30h0.01M580.62,991.94h0.01M572.63,992.09h0.01M564.64,991.77h0.01M556.69,990.97h0.01M548.80,989.70h0.01M541.00,987.96h0.01M533.31,985.75h0.01M525.78,983.09h0.01M518.41,979.99h0.01M511.25,976.44h0.01M504.31,972.48h0.01M497.61,968.11h0.01M491.20,963.35h0.01M485.07,958.21h0.01M479.27,952.71h0.01M473.81,946.88h0.01" stroke="#fff" stroke-width="3.0" stroke-linecap="round"/>
<path d="M558.87,720.53h0.01M567.15,719.87h0.01M575.45,719.71h0.01M583.75,720.04h0.01M592.01,720.87h0.01M600.21,722.20h0.01M608.31,724.01h0.01M616.29,726.30h0.01M624.12,729.07h0.01M631.77,732.30h0.01M639.22,735.98h0.01M646.43,740.10h0.01M653.38,744.64h0.01M660.05,749.59h0.01M666.40,754.93h0.01M672.43,760.64h0.01M678.11,766.70h0.01M683.41,773.09h0.01M688.32,779.79h0.01M692.83,786.77h0.01M696.90,794.00h0.01M700.54,801.47h0.01M703.72,809.13h0.01M706.44,816.98h0.01M708.69,824.98h0.01M710.45,833.09h0.01M711.73,841.30h0.01M712.51,849.56h0.01M712.80,857.86h0.01M712.59,866.16h0.01M711.88,874.44h0.01M710.68,882.65h0.01M708.99,890.78h0.01M706.82,898.80h0.01M704.17,906.67h0.01M701.06,914.37h0.01M697.49,921.87h0.01M693.48,929.14h0.01M689.04,936.16h0.01M684.19,942.90h0.01M678.95,949.34h0.01M673.33,955.45h0.01M667.35,961.22h0.01M661.04,966.61h0.01M654.42,971.63h0.01M647.51,976.23h0.01M640.34,980.42h0.01M632.93,984.17h0.01M625.31,987.47h0.01M617.51,990.30h0.01M609.55,992.67h0.01M601.46,994.56h0.01M593.28,995.96h0.01M585.02,996.86h0.01M576.73,997.27h0.01M568.42,997.19h0.01M560.14,996.61h0.01M551.91,995.53h0.01M543.75,993.96h0.01M535.70,991.91h0.01M527.79,989.38h0.01M520.05,986.39h0.01M512.50,982.93h0.01M505.17,979.03h0.01M498.08,974.70h0.01M491.27,969.95h0.01M484.75,964.80h0.01M478.56,959.28h0.01M472.70,953.39h0.01M467.21,947.16h0.01" stroke="#fff" stroke-width="4.4" stroke-linecap="round"/>
<path d="M522.5,726.9 L560,717.6 L588.7,717.6 L592.5,719.9" stroke="#000" stroke-width="1.9" fill="none" stroke-linejoin="round" />
<line x1="524" y1="733.5" x2="556" y2="724.5" stroke="#000" stroke-width="0.9" stroke-dasharray="1.5,2"/>
<path d="M522.5,727.2 H350 C337,727.2 331,732 327,741 C319,760 309,790 304,812 C300.5,830 299.8,855 300.4,875 C301.2,900 304,920 308,932 C313,948 321,961.4 337,961.4 H488" stroke="#000" stroke-width="1.5" fill="none" stroke-linejoin="round" />
<path d="M520,736.3 H378 C360,736.3 345,745 335,762 C323,782 316,815 312.6,850 C310.6,885 313,912 318,927 C322,937 329,942.8 341,942.8 H474" stroke="#000" stroke-width="2.4" fill="none" stroke-linejoin="round" />
<line x1="336" y1="942.9" x2="474" y2="942.9" stroke="#000" stroke-width="3.4" />
<path d="M517,738.9 H378 C362,738.9 349,747 339,764.5 C328,784 320.5,816 316.8,850 C315,885 318,913 323.5,926 C326.5,933 330,937.5 335,939.5" stroke="#000" stroke-width="1.3" fill="none" stroke-linejoin="round" />
<line x1="520" y1="727.2" x2="520" y2="750" stroke="#000" stroke-width="1.4" />
<circle cx="574.0" cy="858.5" r="115.3" stroke="#000" stroke-width="2.0" fill="none" />
<circle cx="574.0" cy="858.5" r="111.9" stroke="#000" stroke-width="1.8" fill="none" />
<circle cx="574.0" cy="858.5" r="99" stroke="#000" stroke-width="2.2" fill="none" />
<circle cx="574.0" cy="858.5" r="93.7" stroke="#000" stroke-width="4.2" fill="none" />
<circle cx="574.0" cy="858.5" r="87.5" stroke="#000" stroke-width="2.0" fill="none" />
<circle cx="574.0" cy="858.5" r="84" stroke="#000" stroke-width="2.0" fill="none" />
<circle cx="574.0" cy="858.5" r="81" stroke="#000" stroke-width="1.8" fill="none" />
<circle cx="574.0" cy="858.5" r="76.5" stroke="#000" stroke-width="1.3" fill="none" />
<circle cx="574.0" cy="858.5" r="73" stroke="#000" stroke-width="3.2" fill="none" />
<circle cx="574.0" cy="858.5" r="57.8" stroke="#000" stroke-width="2.4" fill="none" />
<circle cx="574.0" cy="858.5" r="50.1" stroke="#000" stroke-width="1.6" fill="none" />
<circle cx="574.0" cy="858.5" r="46.2" stroke="#000" stroke-width="2.6" fill="none" />
<circle cx="574.0" cy="858.5" r="78.6" stroke="#888" stroke-width="0.9" fill="none" />
<path d="M474,942.9 Q478.5,938 479.52,929.69 A118.3,118.3 0 0 1 527.78,749.60" stroke="#000" stroke-width="2.4" fill="none"/>
<rect x="569.6" y="785.6" width="8.8" height="19.6" rx="0" stroke="#000" stroke-width="2.0" fill="#fff" />
<rect x="569.6" y="911.8" width="8.8" height="19.6" rx="0" stroke="#000" stroke-width="2.0" fill="#fff" />
<circle cx="451.2" cy="788.6" r="12.8" stroke="#000" stroke-width="4.1" fill="none" />
<line x1="445.5" y1="788.6" x2="456.9" y2="788.6" stroke="#000" stroke-width="4.2" stroke-linecap="round"/>
<line x1="451.2" y1="783.3" x2="451.2" y2="794.2" stroke="#000" stroke-width="4.5" stroke-linecap="round"/>
<rect x="367.6" y="944.6" width="31.5" height="15" rx="0" stroke="#000" stroke-width="1.6" fill="none" />
<rect x="368.5" y="949" width="30" height="4.4" rx="0" stroke="#000" stroke-width="0" fill="#000" />
<line x1="372" y1="951.2" x2="376.5" y2="951.2" stroke="#fff" stroke-width="1.3" />
<line x1="379" y1="951.2" x2="386" y2="951.2" stroke="#fff" stroke-width="1.3" />
<line x1="389" y1="951.2" x2="396" y2="951.2" stroke="#fff" stroke-width="1.3" />
<line x1="368.5" y1="955.5" x2="398.5" y2="955.5" stroke="#000" stroke-width="1.0" />
<path d="M333,942 C340,945 360,944.5 370,944.5 H430 C445,944.5 452,944 457.5,943.5 C457,955 448,961.4 440,961.4" stroke="#000" stroke-width="1.4" fill="none" stroke-linejoin="round" />
<rect x="341" y="963" width="85" height="11.5" rx="5.5" stroke="#000" stroke-width="1.6" fill="#fff" />
<path d="M348,974.5 V1004 H419.5 V974.5" stroke="#000" stroke-width="1.8" fill="none" stroke-linejoin="round" />
<path d="M419.5,980 C425,992 432,990 440,986 C452,978 462,968.5 480,968.5 C492,968.5 500,975 515,983" stroke="#000" stroke-width="1.4" fill="none" stroke-linejoin="round" />
<path d="M419.5,983.5 C425,995 433,994 442,990 C455,982 465,972 480,972 C492,972 502,978 515,987" stroke="#000" stroke-width="1.4" fill="none" stroke-linejoin="round" />
<line x1="574.0" y1="707" x2="574.0" y2="1010" stroke="#666" stroke-width="1.3" stroke-dasharray="15,4.5,3,4.5"/>
<line x1="410" y1="858.5" x2="526" y2="858.5" stroke="#666" stroke-width="1.1" stroke-dasharray="14,3,2,3,2,3"/>
<line x1="622" y1="858.5" x2="728" y2="858.5" stroke="#666" stroke-width="1.1" stroke-dasharray="14,3,2,3,2,3"/>
<line x1="527.6" y1="858.5" x2="542" y2="858.5" stroke="#000" stroke-width="2.0" />
<line x1="545.4" y1="858.5" x2="546.8" y2="858.5" stroke="#000" stroke-width="2.0" />
<line x1="549.6" y1="858.5" x2="551" y2="858.5" stroke="#000" stroke-width="2.0" />
<line x1="555" y1="858.5" x2="568.1" y2="858.5" stroke="#000" stroke-width="2.0" />
<line x1="580.5" y1="858.5" x2="593.6" y2="858.5" stroke="#000" stroke-width="2.0" />
<line x1="598.4" y1="858.5" x2="599.8" y2="858.5" stroke="#000" stroke-width="2.0" />
<line x1="602.5" y1="858.5" x2="603.9" y2="858.5" stroke="#000" stroke-width="2.0" />
<line x1="608" y1="858.5" x2="620.4" y2="858.5" stroke="#000" stroke-width="2.0" />
<circle cx="574" cy="858.5" r="1.0" stroke="#000" stroke-width="1.0" fill="none" />
</svg></body></html>
